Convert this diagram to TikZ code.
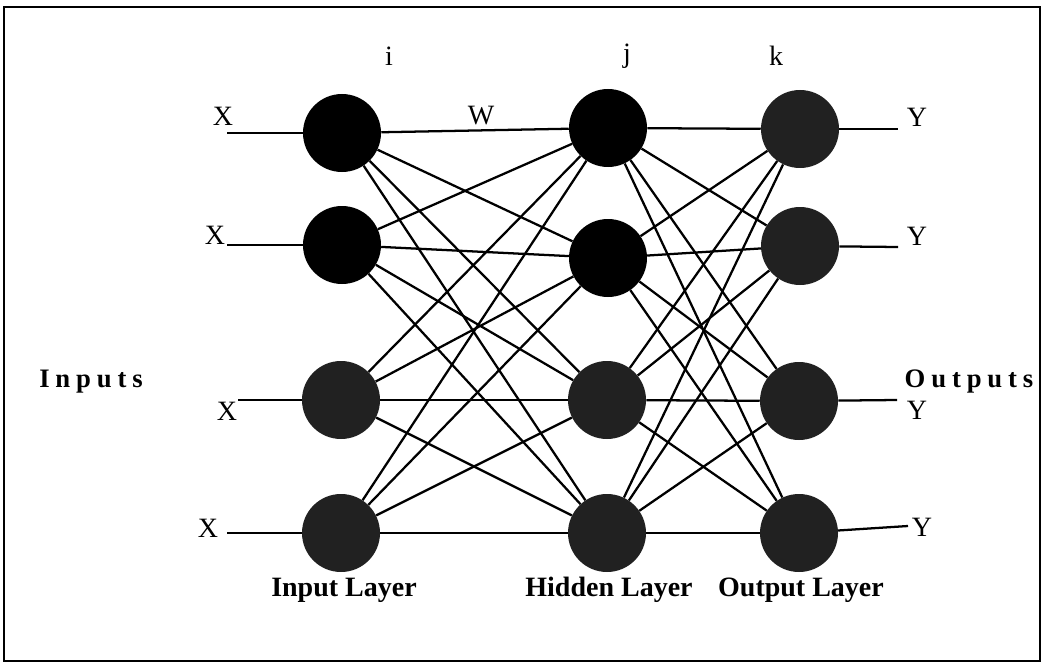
\documentclass[tikz,border=0pt]{standalone}
\usepackage{fontspec}
\setmainfont{Liberation Serif}
\usepackage{tikz}
\usetikzlibrary{positioning,calc}

\begin{document}
\begin{tikzpicture}[x=0.75pt,y=-0.75pt,
            every node/.style={font=\fontsize{21}{24}\selectfont},
            unit/.style={circle,fill=black,minimum size=58.5pt,inner sep=0pt},
            dimunit/.style={unit,fill=black!87},
            link/.style={line width=1.7pt},
            layer/.style={font=\fontsize{21}{24}\selectfont\bfseries},
            side/.style={font=\fontsize{20}{24}\selectfont\bfseries\addfontfeature{LetterSpace=22}}
            ]
            \useasboundingbox (0,0) rectangle (1044,663);
            \draw[line width=1.8pt] (4,7) rectangle (1040,661);
            \node[unit] (in1) at (342,133) {}; \node[unit] (in2) at (342,245) {};
            \node[dimunit] (in3) at (341,400) {}; \node[dimunit] (in4) at (341,533) {};
            \node[unit] (hid1) at (608,128) {}; \node[unit] (hid2) at (608,258) {};
            \node[dimunit] (hid3) at (607,400) {}; \node[dimunit] (hid4) at (607,533) {};
            \node[dimunit] (out1) at (800,129) {}; \node[dimunit] (out2) at (800,246) {};
            \node[dimunit] (out3) at (799,401) {}; \node[dimunit] (out4) at (799,533) {};
            \foreach \a in {1,...,4}{\foreach \b in {1,...,4}{
              \draw[link] (in\a) -- (hid\b); \draw[link] (hid\a) -- (out\b);}}
            \coordinate (xs1) at (227,133); \coordinate (xs2) at (227,245);
            \coordinate (xs3) at (238,400); \coordinate (xs4) at (227,533);
            \coordinate (ye1) at (898,129); \coordinate (ye2) at (898,247);
            \coordinate (ye3) at (897,400); \coordinate (ye4) at (908,526);
            \foreach \a in {1,...,4}{\draw[link] (xs\a) -- (in\a); \draw[link] (out\a) -- (ye\a);}
            \node (x1) at (223,116) {X}; \node (x2) at (215,235) {X};
            \node (x3) at (227,411) {X}; \node (x4) at (208,528) {X};
            \node (y1) at (917,117) {Y}; \node (y2) at (917,236) {Y};
            \node (y3) at (917,410) {Y}; \node (y4) at (922,527) {Y};
            \node (li) at (389,56) {i}; \node (lj) at (627,56) {j};
            \node (lk) at (776,56) {k}; \node (lw) at (481,116) {W};
            \node[side] (inputs) at (91,382) {Inputs};
            \node[side] (outputs) at (969,382) {Outputs};
            \node[layer] (linput) at (344,590) {Input Layer};
            \node[layer] (lhidden) at (609,590) {Hidden Layer};
            \node[layer] (loutput) at (801,590) {Output Layer};
          \end{tikzpicture}
\end{document}
